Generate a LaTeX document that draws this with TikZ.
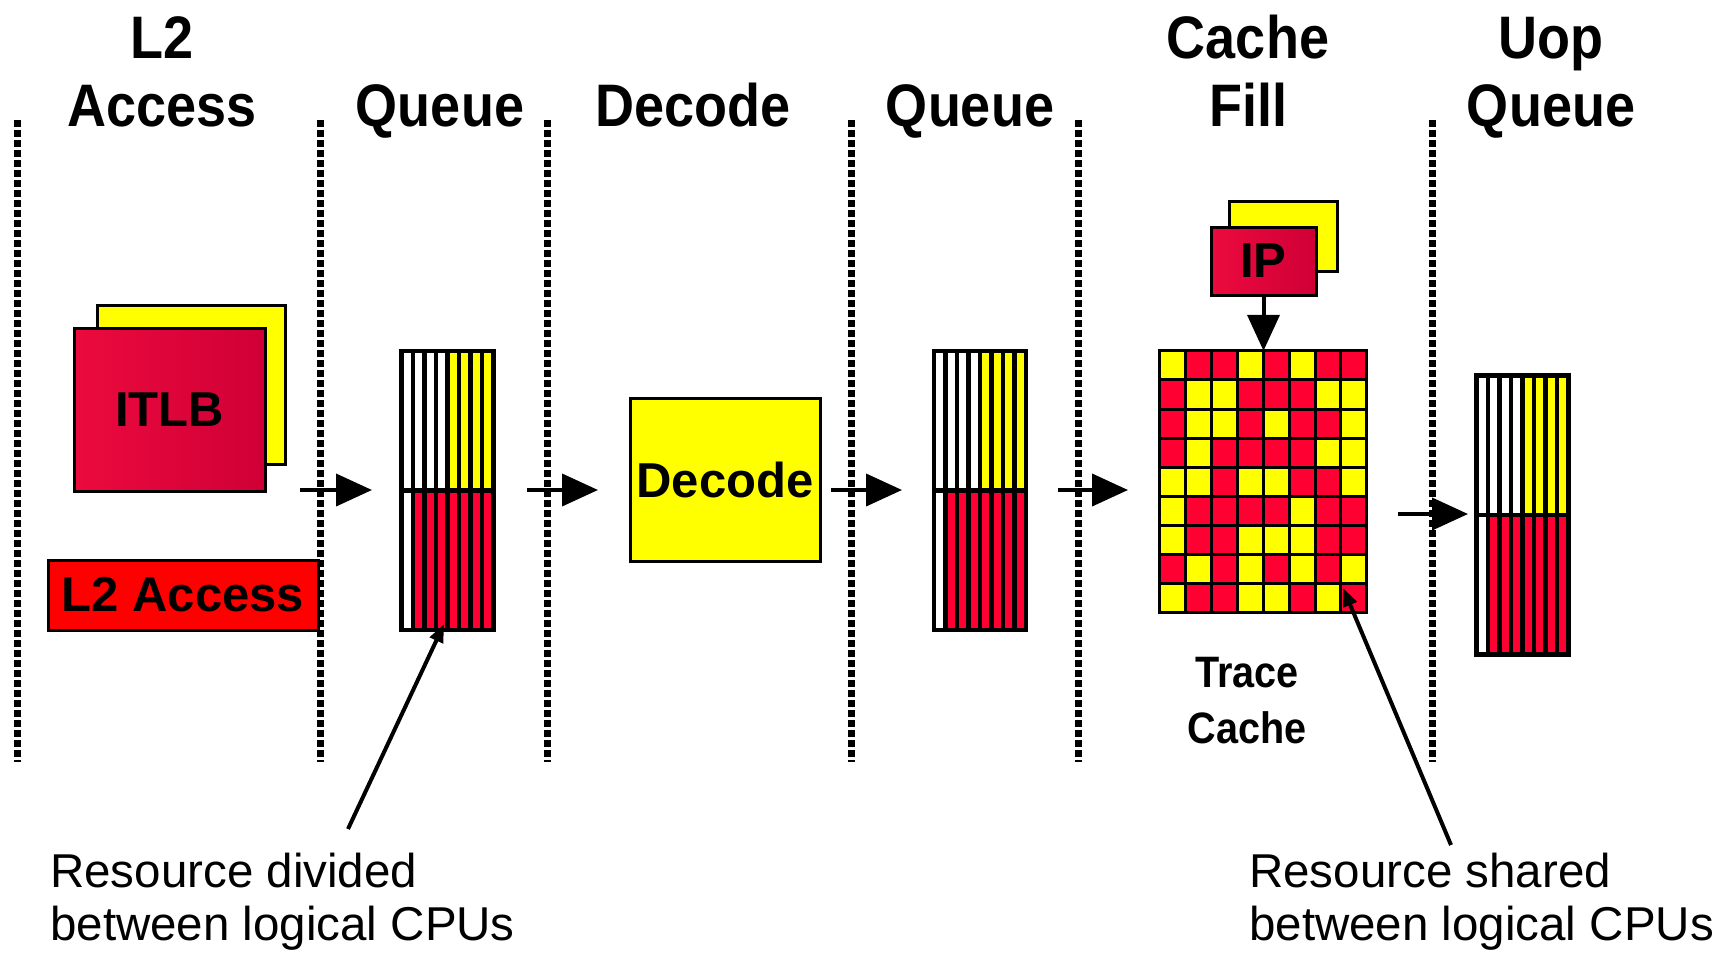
\documentclass[tikz,border=0pt]{standalone}
\usepackage{fontspec}
\setmainfont{Liberation Sans}
\newfontfamily\headfont[FakeStretch=0.9]{Liberation Sans}
\usetikzlibrary{arrows.meta,calc}

\definecolor{yl}{HTML}{FFFF00}
\definecolor{rd}{HTML}{FF0033}
\definecolor{l2red}{HTML}{FF0000}
\definecolor{redA}{HTML}{EC0A3E}
\definecolor{redB}{HTML}{CF0036}

\tikzset{
  stage/.style={line width=7pt, dash pattern=on 6.5pt off 3.5pt},
  flow/.style={line width=4pt, -{Triangle[length=36pt,width=32pt]}},
  pointer/.style={line width=4pt, -{Triangle[length=18pt,width=14pt]}},
  heading/.style={anchor=base, inner sep=0pt, font=\headfont\bfseries\fontsize{60}{68}\selectfont},
  tclabel/.style={anchor=base, inner sep=0pt, font=\headfont\bfseries\fontsize{44}{50}\selectfont},
  note/.style={anchor=base west, inner sep=0pt, font=\fontsize{47.5}{53}\selectfont},
  unit/.style={draw, line width=3pt, inner sep=0pt, font=\bfseries\fontsize{49}{56}\selectfont},
  qcell/.style={draw, line width=4.5pt},
  tcell/.style={draw, line width=3pt},
}

\begin{document}
\begin{tikzpicture}[x=1pt,y=-1pt]
  \useasboundingbox (0,0) rectangle (1733,954);

  % stage titles
  \node[heading] (h1a) at (162,58) {L2};
  \node[heading] (h1b) at (162,126) {Access};
  \node[heading] (h2) at (440,126) {Queue};
  \node[heading] (h3) at (693,126) {Decode};
  \node[heading] (h4) at (970,126) {Queue};
  \node[heading] (h5a) at (1248,58) {Cache};
  \node[heading] (h5b) at (1248,126) {Fill};
  \node[heading] (h6a) at (1551,58) {Uop};
  \node[heading] (h6b) at (1551,126) {Queue};

  % L2 access stage
  \node[unit, fill=yl, minimum width=188pt, minimum height=159pt] (itlbback) at (191,384.5) {};
  \node[unit, left color=redA, right color=redB, minimum width=191pt, minimum height=163pt] (itlb) at (169.5,409.5) {ITLB};
  \node[unit, fill=l2red, minimum width=270pt, minimum height=70pt] (l2) at (183,595) {L2 Access};

  % queues: 4 white + 4 yellow on top, 1 white + 7 red below
  \foreach \q/\cx/\cy in {q1/447.5/490.5, q2/980/490.5, uq/1522.5/515} {
    \node[inner sep=0pt, minimum width=92pt, minimum height=279pt] (\q) at (\cx,\cy) {};
    \begin{scope}[shift={(\q.north west)}]
      \foreach \k in {0,...,7} {
        \ifnum\k<4 \def\upc{white}\else\def\upc{yl}\fi
        \ifnum\k<1 \def\loc{white}\else\def\loc{rd}\fi
        \draw[qcell, fill=\upc] (\k*11.5,0) rectangle +(11.5,139.5);
        \draw[qcell, fill=\loc] (\k*11.5,139.5) rectangle +(11.5,139.5);
      }
    \end{scope}
  }

  % decode
  \node[unit, fill=yl, minimum width=190pt, minimum height=163pt] (dec) at (725,479.5) {Decode};

  % instruction pointer
  \node[unit, fill=yl, minimum width=108pt, minimum height=70pt] (ipback) at (1283,236) {};
  \node[unit, left color=redA, right color=redB, minimum width=105pt, minimum height=68pt] (ip) at (1263.5,261) {IP};

  % trace cache
  \node[inner sep=0pt, minimum width=207pt, minimum height=262pt] (tc) at (1263.5,482) {};
  \begin{scope}[shift={(tc.north west)}]
    \foreach \cells [count=\r from 0] in {
      {yl,rd,rd,yl,rd,yl,rd,rd},
      {rd,yl,yl,rd,rd,rd,yl,yl},
      {rd,yl,yl,rd,yl,rd,rd,yl},
      {rd,yl,rd,rd,rd,rd,yl,yl},
      {yl,yl,rd,yl,yl,rd,rd,yl},
      {yl,rd,rd,rd,rd,yl,rd,rd},
      {yl,rd,rd,yl,yl,yl,rd,rd},
      {rd,yl,rd,yl,rd,yl,rd,yl},
      {yl,rd,rd,yl,yl,rd,yl,rd}} {
      \foreach \c [count=\k from 0] in \cells
        \draw[tcell, fill=\c] (\k*25.875,\r*29.11) rectangle +(25.875,29.11);
    }
  \end{scope}
  \node[tclabel] (tc1) at (1247,687) {Trace};
  \node[tclabel] (tc2) at (1247,743) {Cache};

  % stage boundaries
  \foreach \x in {17,320,547,851,1078,1432}
    \draw[stage] (\x,120) -- (\x,762);

  % flow between stages
  \foreach \s/\e/\y [count=\i] in {300/372/490, 527/598/490, 831/902/490, 1058/1128/490, 1398/1468/514} {
    \coordinate (out\i) at (\s,\y);
    \coordinate (in\i) at (\e,\y);
    \draw[flow] (out\i) -- (in\i);
  }
  \draw[flow] (ip.south) -- (tc.north);

  % notes
  \node[note] (n1a) at (50,887) {Resource divided};
  \node[note] (n1b) at (50,940) {between logical CPUs};
  \node[note] (n2a) at (1249,887) {Resource shared};
  \node[note] (n2b) at (1249,940) {between logical CPUs};
  \coordinate (p1) at (348,829);
  \coordinate (p2) at (1451,845);
  \draw[pointer] (p1) -- ($(q1.south)+(-3.5,-6)$);
  \draw[pointer] (p2) -- ($(tc.south east)+(-24,-25)$);
\end{tikzpicture}
\end{document}
